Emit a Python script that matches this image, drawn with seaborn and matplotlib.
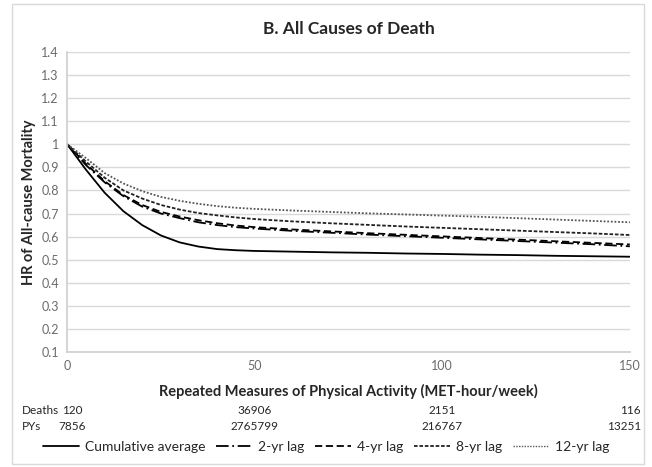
import pandas as pd
import seaborn as sns
import matplotlib.pyplot as plt
from matplotlib.patches import Rectangle

met = [0, 5, 10, 15, 20, 25, 30, 35, 40, 45, 50, 60, 70, 80, 90, 100, 110, 120, 130, 140, 150]
cum_avg = [1.0, 0.89, 0.79, 0.71, 0.65, 0.605, 0.575, 0.557, 0.546, 0.541, 0.538, 0.535, 0.532,
           0.530, 0.527, 0.525, 0.522, 0.520, 0.517, 0.515, 0.513]
lag2 = [1.0, 0.91, 0.835, 0.775, 0.73, 0.70, 0.68, 0.662, 0.65, 0.641, 0.635, 0.625, 0.617,
        0.609, 0.602, 0.595, 0.588, 0.581, 0.574, 0.567, 0.558]
lag4 = [1.0, 0.915, 0.84, 0.78, 0.737, 0.707, 0.687, 0.671, 0.658, 0.648, 0.641, 0.631, 0.623,
        0.615, 0.608, 0.601, 0.594, 0.587, 0.580, 0.573, 0.566]
lag8 = [1.0, 0.925, 0.855, 0.80, 0.765, 0.737, 0.717, 0.702, 0.692, 0.683, 0.676, 0.666, 0.658,
        0.651, 0.644, 0.638, 0.632, 0.626, 0.620, 0.614, 0.607]
lag12 = [1.0, 0.94, 0.875, 0.83, 0.797, 0.772, 0.755, 0.742, 0.732, 0.725, 0.72, 0.713, 0.707,
         0.701, 0.696, 0.691, 0.686, 0.680, 0.674, 0.668, 0.662]
series_names = ["Cumulative average", "2-yr lag", "4-yr lag", "8-yr lag", "12-yr lag"]

tick_pos = [0, 50, 100, 150]
deaths = ["120", "36906", "2151", "116"]
pys = ["7856", "2765799", "216767", "13251"]

frames = []
for name, vals in zip(series_names, [cum_avg, lag2, lag4, lag8, lag12]):
    frames.append(pd.DataFrame({"MET": met, "HR": vals, "Series": name}))
df = pd.concat(frames, ignore_index=True)

sns.set_theme(style="white")
plt.rcParams["font.family"] = ["Lato", "DejaVu Sans"]

fig = plt.figure(figsize=(6.52, 4.67), dpi=100)
ax = fig.add_axes([0.103, 0.246, 0.863, 0.643])

dashes = {
    "Cumulative average": "",
    "2-yr lag": (7, 2, 1, 2),
    "4-yr lag": (4, 2),
    "8-yr lag": (2, 1),
    "12-yr lag": (1, 1),
}
sns.lineplot(
    data=df, x="MET", y="HR", hue="Series", style="Series",
    palette=["black", "black", "black", "#222222", "#555555"],
    dashes=dashes, linewidth=1.3, ax=ax, legend=True,
)
for line in ax.get_lines():
    if line.get_label() == "12-yr lag":
        line.set_linewidth(1.0)

ax.set_xlim(0, 150)
ax.set_ylim(0.1, 1.4)
ax.set_xticks(tick_pos)
ax.set_yticks([i / 10 for i in range(1, 15)])
ax.set_yticklabels(["0.1", "0.2", "0.3", "0.4", "0.5", "0.6", "0.7", "0.8", "0.9", "1",
                    "1.1", "1.2", "1.3", "1.4"])
ax.grid(axis="y", color="#d9d9d9", linewidth=1)
ax.tick_params(axis="both", colors="#6b6b6b", labelsize=9, length=0, pad=6)
for s in ["top", "right"]:
    ax.spines[s].set_visible(False)
for s in ["left", "bottom"]:
    ax.spines[s].set_color("#d0d0d0")

ax.set_title("B. All Causes of Death", fontsize=12.5, fontweight="bold", pad=13)
ax.set_ylabel("HR of All-cause Mortality", fontsize=10.5, fontweight="bold", labelpad=4)
ax.set_xlabel("Repeated Measures of Physical Activity (MET-hour/week)", fontsize=10.5,
              fontweight="bold", labelpad=8)

# counts below the axis
tr = ax.get_xaxis_transform()
fig.text(22 / 652, 1 - 410 / 467, "Deaths", fontsize=8.5, va="center")
fig.text(22 / 652, 1 - 426 / 467, "PYs", fontsize=8.5, va="center")
for i, (x, d, p) in enumerate(zip(tick_pos, deaths, pys)):
    dx, ha = 0, "center"
    if i == 0:
        dx = 5
    elif i == len(tick_pos) - 1:
        dx, ha = 11, "right"
    ax.annotate(d, (x, 0), xycoords=tr, xytext=(dx, -410 + 352), textcoords="offset pixels",
                ha=ha, va="center", fontsize=8.5)
    ax.annotate(p, (x, 0), xycoords=tr, xytext=(dx, -426 + 352), textcoords="offset pixels",
                ha=ha, va="center", fontsize=8.5)

handles, labels = ax.get_legend_handles_labels()
ax.get_legend().remove()
fig.legend(handles, labels, loc="center", bbox_to_anchor=(0.5, 1 - 447 / 467), ncol=5,
           frameon=False, fontsize=10, handlelength=2.6, columnspacing=0.8,
           handletextpad=0.4)

fig.patches.append(Rectangle((12 / 652, 3 / 467), 632 / 652, 460 / 467, transform=fig.transFigure,
                             fill=False, edgecolor="#d9d9d9", linewidth=1))

fig.savefig("out.png", dpi=100)
